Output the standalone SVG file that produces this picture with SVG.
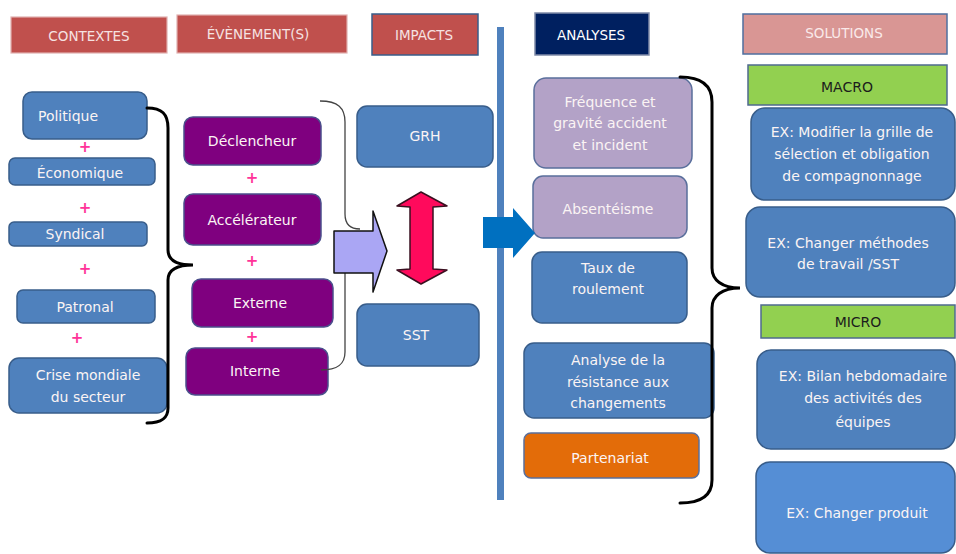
<svg xmlns="http://www.w3.org/2000/svg" width="956" height="554" viewBox="0 0 956 554">
  <style>
    .t { font-family: "DejaVu Sans", "Liberation Sans", sans-serif; font-size: 14px; fill: #fbf4f4; text-anchor: middle; }
    .hd { font-family: "DejaVu Sans", "Liberation Sans", sans-serif; font-size: 13.5px; fill: #f6e2e2; text-anchor: middle; }
    .dark { fill: #1c1c1c; }
    .plus { font-family: "DejaVu Sans", sans-serif; font-size: 15px; font-weight: bold; fill: #ff3399; text-anchor: middle; }
    .blue { fill: #4f81bd; stroke: #385d8a; stroke-width: 1.5; }
    .blue2 { fill: #558ed5; stroke: #385d8a; stroke-width: 1.5; }
    .purple { fill: #7f007f; stroke: #4b4f8c; stroke-width: 1.5; }
    .lav { fill: #b3a2c7; stroke: #5a6f9c; stroke-width: 1.5; }
    .orange { fill: #e36c09; stroke: #5a6f9c; stroke-width: 1.5; }
    .green { fill: #92d050; stroke: #4f6a8f; stroke-width: 1.5; }
    .red { fill: #c0504d; stroke: #e0b0b0; stroke-width: 1.2; }
    .brace { fill: none; stroke: #000; stroke-width: 3; stroke-linecap: round; }
    .thin { fill: none; stroke: #444; stroke-width: 1.3; }
  </style>

  <!-- column headers -->
  <g id="h-contextes"><rect class="red" x="11" y="17" width="156" height="36"/><text class="hd" x="89" y="41">CONTEXTES</text></g>
  <g id="h-evenements"><rect class="red" x="177" y="15" width="170" height="38"/><text class="hd" x="258" y="39">ÉVÈNEMENT(S)</text></g>
  <g id="h-impacts"><rect x="372" y="14" width="106" height="41" fill="#c0504d" stroke="#385d8a" stroke-width="1.5"/><text class="hd" x="424" y="40">IMPACTS</text></g>
  <g id="h-analyses"><rect x="535" y="13" width="114" height="42" fill="#002060" stroke="#7f8aa8" stroke-width="1.5"/><text class="hd" x="591" y="40" fill="#ffffff" style="fill:#ffffff">ANALYSES</text></g>
  <g id="h-solutions"><rect x="743" y="14" width="204" height="40" fill="#d99694" stroke="#4f6f9f" stroke-width="1.5"/><text class="hd" x="844" y="38" style="fill:#faeaea">SOLUTIONS</text></g>

  <!-- separator between impacts and analyses -->
  <rect id="separator" x="497" y="27" width="7" height="473" fill="#4f81bd"/>

  <!-- contextes -->
  <g id="n-politique"><rect class="blue" x="23" y="92" width="124" height="47" rx="9"/><text class="t" x="68" y="121">Politique</text></g>
  <g id="n-economique"><rect class="blue" x="9" y="158" width="146" height="27" rx="6"/><text class="t" x="80" y="178">Économique</text></g>
  <g id="n-syndical"><rect class="blue" x="9" y="222" width="138" height="24" rx="5"/><text class="t" x="75" y="239">Syndical</text></g>
  <g id="n-patronal"><rect class="blue" x="17" y="290" width="138" height="33" rx="6"/><text class="t" x="85" y="312">Patronal</text></g>
  <g id="n-crise"><rect class="blue" x="9" y="358" width="158" height="55" rx="10"/><text class="t" x="88" y="380">Crise mondiale</text><text class="t" x="88" y="402">du secteur</text></g>
  <g id="plus-contextes">
    <text class="plus" x="85" y="152">+</text>
    <text class="plus" x="85" y="213">+</text>
    <text class="plus" x="85" y="274">+</text>
    <text class="plus" x="77" y="343">+</text>
  </g>

  <!-- evenements -->
  <g id="n-declencheur"><rect class="purple" x="184" y="117" width="137" height="48" rx="9"/><text class="t" x="252" y="146">Déclencheur</text></g>
  <g id="n-accelerateur"><rect class="purple" x="184" y="194" width="137" height="51" rx="9"/><text class="t" x="252" y="225">Accélérateur</text></g>
  <g id="n-externe"><rect class="purple" x="192" y="279" width="141" height="48" rx="9"/><text class="t" x="260" y="308">Externe</text></g>
  <g id="n-interne"><rect class="purple" x="186" y="348" width="142" height="47" rx="9"/><text class="t" x="255" y="376">Interne</text></g>
  <g id="plus-evenements">
    <text class="plus" x="252" y="183">+</text>
    <text class="plus" x="252" y="266">+</text>
    <text class="plus" x="252" y="342">+</text>
  </g>

  <!-- impacts -->
  <g id="n-grh"><rect class="blue" x="357" y="106" width="136" height="61" rx="10"/><text class="t" x="425" y="141">GRH</text></g>
  <g id="n-sst"><rect class="blue" x="357" y="304" width="122" height="62" rx="10"/><text class="t" x="416" y="340">SST</text></g>

  <!-- analyses -->
  <g id="n-frequence"><rect class="lav" x="534" y="78" width="158" height="90" rx="12"/><text class="t" x="610" y="107">Fréquence  et</text><text class="t" x="610" y="128">gravité  accident</text><text class="t" x="610" y="150">et incident</text></g>
  <g id="n-absenteisme"><rect class="lav" x="533" y="176" width="154" height="62" rx="10"/><text class="t" x="608" y="214">Absentéisme</text></g>
  <g id="n-taux"><rect class="blue" x="532" y="252" width="155" height="71" rx="10"/><text class="t" x="608" y="273">Taux  de</text><text class="t" x="608" y="294">roulement</text></g>
  <g id="n-resistance"><rect class="blue" x="524" y="343" width="190" height="75" rx="10"/><text class="t" x="618" y="365">Analyse  de la</text><text class="t" x="618" y="387">résistance aux</text><text class="t" x="618" y="408">changements</text></g>
  <g id="n-partenariat"><rect class="orange" x="524" y="433" width="175" height="45" rx="7"/><text class="t" x="610" y="463">Partenariat</text></g>

  <!-- solutions -->
  <g id="n-macro"><rect class="green" x="748" y="65" width="199" height="40"/><text class="t dark" x="847" y="92">MACRO</text></g>
  <g id="n-grille"><rect class="blue" x="751" y="108" width="204" height="92" rx="14"/><text class="t" x="852" y="137">EX: Modifier  la  grille  de</text><text class="t" x="852" y="159">sélection  et  obligation</text><text class="t" x="852" y="181">de  compagnonnage</text></g>
  <g id="n-methodes"><rect class="blue" x="746" y="207" width="209" height="90" rx="14"/><text class="t" x="848" y="248">EX: Changer  méthodes</text><text class="t" x="848" y="269">de  travail  /SST</text></g>
  <g id="n-micro"><rect class="green" x="761" y="305" width="194" height="33"/><text class="t dark" x="858" y="327">MICRO</text></g>
  <g id="n-bilan"><rect class="blue" x="757" y="350" width="198" height="99" rx="14"/><text class="t" x="863" y="381">EX: Bilan  hebdomadaire</text><text class="t" x="863" y="403">des activités  des</text><text class="t" x="863" y="427">équipes</text></g>
  <g id="n-produit"><rect class="blue2" x="756" y="462" width="199" height="91" rx="14"/><text class="t" x="857" y="518">EX: Changer  produit</text></g>

  <!-- connectors: braces and block arrows -->
  <g id="connectors">
    <path class="brace" d="M147,108 C162,108 168,114 168,128 L168,250 C168,260 176,265 193,265 C176,265 168,270 168,280 L168,408 C168,418 162,423 147,423"/>
    <path class="thin" d="M320,101 C338,101 345,108 345,122 L345,214 C345,224 350,229 360,229"/>
    <path class="thin" d="M345,262 L345,352 C345,364 338,370 321,370"/>
    <path class="brace" d="M680,77 C702,77 712,86 712,102 L712,268 C712,280 722,288 740,288 C722,288 712,296 712,308 L712,480 C712,495 702,503 680,503"/>
    <polygon id="arrow-evenements" points="334,231 373,231 373,211 387,251 373,292 373,273 334,273" fill="#aaa6f4" stroke="#111" stroke-width="1.5" stroke-linejoin="round"/>
    <polygon id="arrow-impacts" points="421,192 447,206 433,207 433,269 447,270 421,284 397,270 410,269 410,207 397,206" fill="#ff0a5c" stroke="#3a1020" stroke-width="1.5" stroke-linejoin="round"/>
    <polygon id="arrow-analyses" points="483,217 513,217 513,208 535,233 513,258 513,248 483,248" fill="#0070c0"/>
  </g>
</svg>
